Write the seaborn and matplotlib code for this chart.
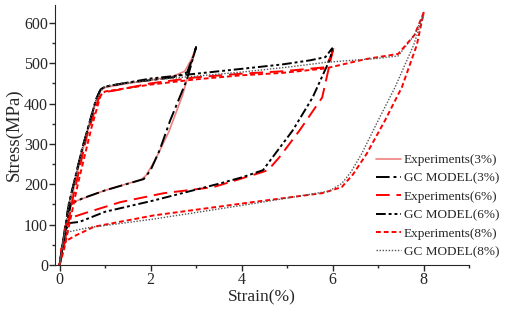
import numpy as np
import pandas as pd
import matplotlib
matplotlib.use('Agg')
import matplotlib.pyplot as plt
from matplotlib.ticker import MultipleLocator
import seaborn as sns

# loops: loading branch then unloading branch
exp3_x = [0, 0.1, 0.2, 0.4, 0.6, 0.8, 0.9, 1.0, 1.5, 2.0, 2.5, 2.75, 2.9, 3.0,
          2.9, 2.7, 2.4, 2.1, 1.9, 1.8, 1.0, 0.4, 0.25, 0.15, 0.05, 0]
exp3_y = [0, 60, 130, 235, 325, 405, 432, 440, 450, 458, 468, 480, 510, 540,
          500, 420, 330, 260, 222, 212, 185, 160, 155, 100, 30, 0]

gc3_x = [0, 0.2, 0.5, 0.8, 0.9, 1.0, 1.5, 2.0, 2.5, 2.8, 2.95, 3.0,
         2.8, 2.43, 2.2, 2.0, 1.85, 1.0, 0.5, 0.25, 0.1, 0]
gc3_y = [0, 150, 290, 410, 435, 442, 452, 458, 465, 477, 520, 540,
         460, 358, 285, 235, 213, 185, 165, 152, 70, 0]

exp6_x = [0, 0.1, 0.3, 0.6, 0.85, 0.95, 1.2, 2.0, 3.0, 4.0, 4.9, 5.85, 5.97, 6.03,
          5.95, 5.77, 5.27, 4.83, 4.58, 4.39, 3.38, 2.29, 1.34, 0.54, 0.22, 0.12, 0.05, 0]
exp6_y = [0, 50, 170, 320, 410, 428, 432, 450, 465, 474, 480, 490, 520, 543,
          505, 415, 333, 267, 235, 228, 193, 178, 156, 128, 116, 95, 40, 0]

gc6_x = [0, 0.2, 0.5, 0.8, 0.9, 1.0, 2.0, 3.0, 4.0, 4.9, 5.5, 5.84, 5.99,
         5.95, 5.56, 5.12, 4.68, 4.47, 4.03, 3.52, 2.07, 1.0, 0.44, 0.22, 0.15, 0.05, 0]
gc6_y = [0, 150, 290, 410, 435, 442, 462, 474, 486, 497, 507, 515, 537,
         512, 415, 333, 267, 235, 218, 202, 160, 132, 107, 104, 90, 35, 0]

exp8_x = [0, 0.1, 0.4, 0.7, 0.9, 1.0, 2.0, 3.0, 4.0, 4.9, 5.84, 6.72, 7.44, 7.8, 8.0,
          7.85, 7.52, 7.15, 6.75, 6.45, 6.2, 5.77, 4.25, 2.07, 0.76, 0.33, 0.15, 0.04, 0]
exp8_y = [0, 40, 200, 340, 420, 430, 447, 460, 470, 476, 487, 510, 523, 570, 625,
          545, 440, 358, 276, 225, 193, 178, 156, 123, 95, 72, 60, 45, 0]

gc8_x = [0, 0.2, 0.5, 0.8, 0.95, 1.1, 2.0, 3.0, 4.0, 5.0, 5.84, 7.0, 7.44, 7.8, 8.0,
         7.78, 7.37, 7.0, 6.64, 6.4, 6.2, 5.92, 4.25, 2.07, 0.6, 0.11, 0.06, 0]
gc8_y = [0, 150, 290, 410, 438, 445, 458, 468, 478, 490, 502, 512, 518, 570, 620,
         545, 440, 358, 276, 230, 202, 183, 152, 114, 92, 80, 50, 0]

curves = [
    ('Experiments(3%)', exp3_x, exp3_y, '#f08080', '-', 1.2),
    ('GC MODEL(3%)', gc3_x, gc3_y, 'black', (0, (7, 2, 1.5, 2)), 1.4),
    ('Experiments(6%)', exp6_x, exp6_y, 'red', (0, (7, 3.5)), 1.4),
    ('GC MODEL(6%)', gc6_x, gc6_y, 'black', (0, (5, 1.5, 1.5, 1.5, 1.5, 1.5)), 1.4),
    ('Experiments(8%)', exp8_x, exp8_y, 'red', (0, (2.5, 1.5)), 1.4),
    ('GC MODEL(8%)', gc8_x, gc8_y, '#555555', (0, (1, 1.2)), 1.0),
]

sns.set_style('ticks')
plt.rcParams['font.family'] = ['Liberation Serif', 'DejaVu Serif']

fig = plt.figure(figsize=(5.05, 3.1), dpi=100)
ax = fig.add_axes([0.109, 0.145, 0.82, 0.84])

for name, xs, ys, col, ls, lw in curves:
    df = pd.DataFrame({'strain': xs, 'stress': ys})
    sns.lineplot(data=df, x='strain', y='stress', sort=False, estimator=None,
                 color=col, linestyle=ls, linewidth=lw, label=name, ax=ax)

ax.set_xlim(-0.1, 9)
ax.set_ylim(0, 645)
ax.xaxis.set_major_locator(MultipleLocator(2))
ax.xaxis.set_minor_locator(MultipleLocator(1))
ax.yaxis.set_major_locator(MultipleLocator(100))
ax.yaxis.set_minor_locator(MultipleLocator(50))
ax.tick_params(which='major', length=4, width=1, labelsize=11.5, pad=1)
ax.tick_params(which='minor', length=2.5, width=1)
sns.despine(ax=ax)
ax.set_xlabel('Strain(%)', fontsize=12.5, labelpad=1)
ax.set_ylabel('Stress(MPa)', fontsize=13.5, labelpad=1)

ax.legend(loc='lower right', bbox_to_anchor=(1.095, -0.008), frameon=False,
          fontsize=9.5, handlelength=1.9, handletextpad=0.2, labelspacing=0.46,
          borderaxespad=0.3)

fig.savefig('out.png', dpi=100)
